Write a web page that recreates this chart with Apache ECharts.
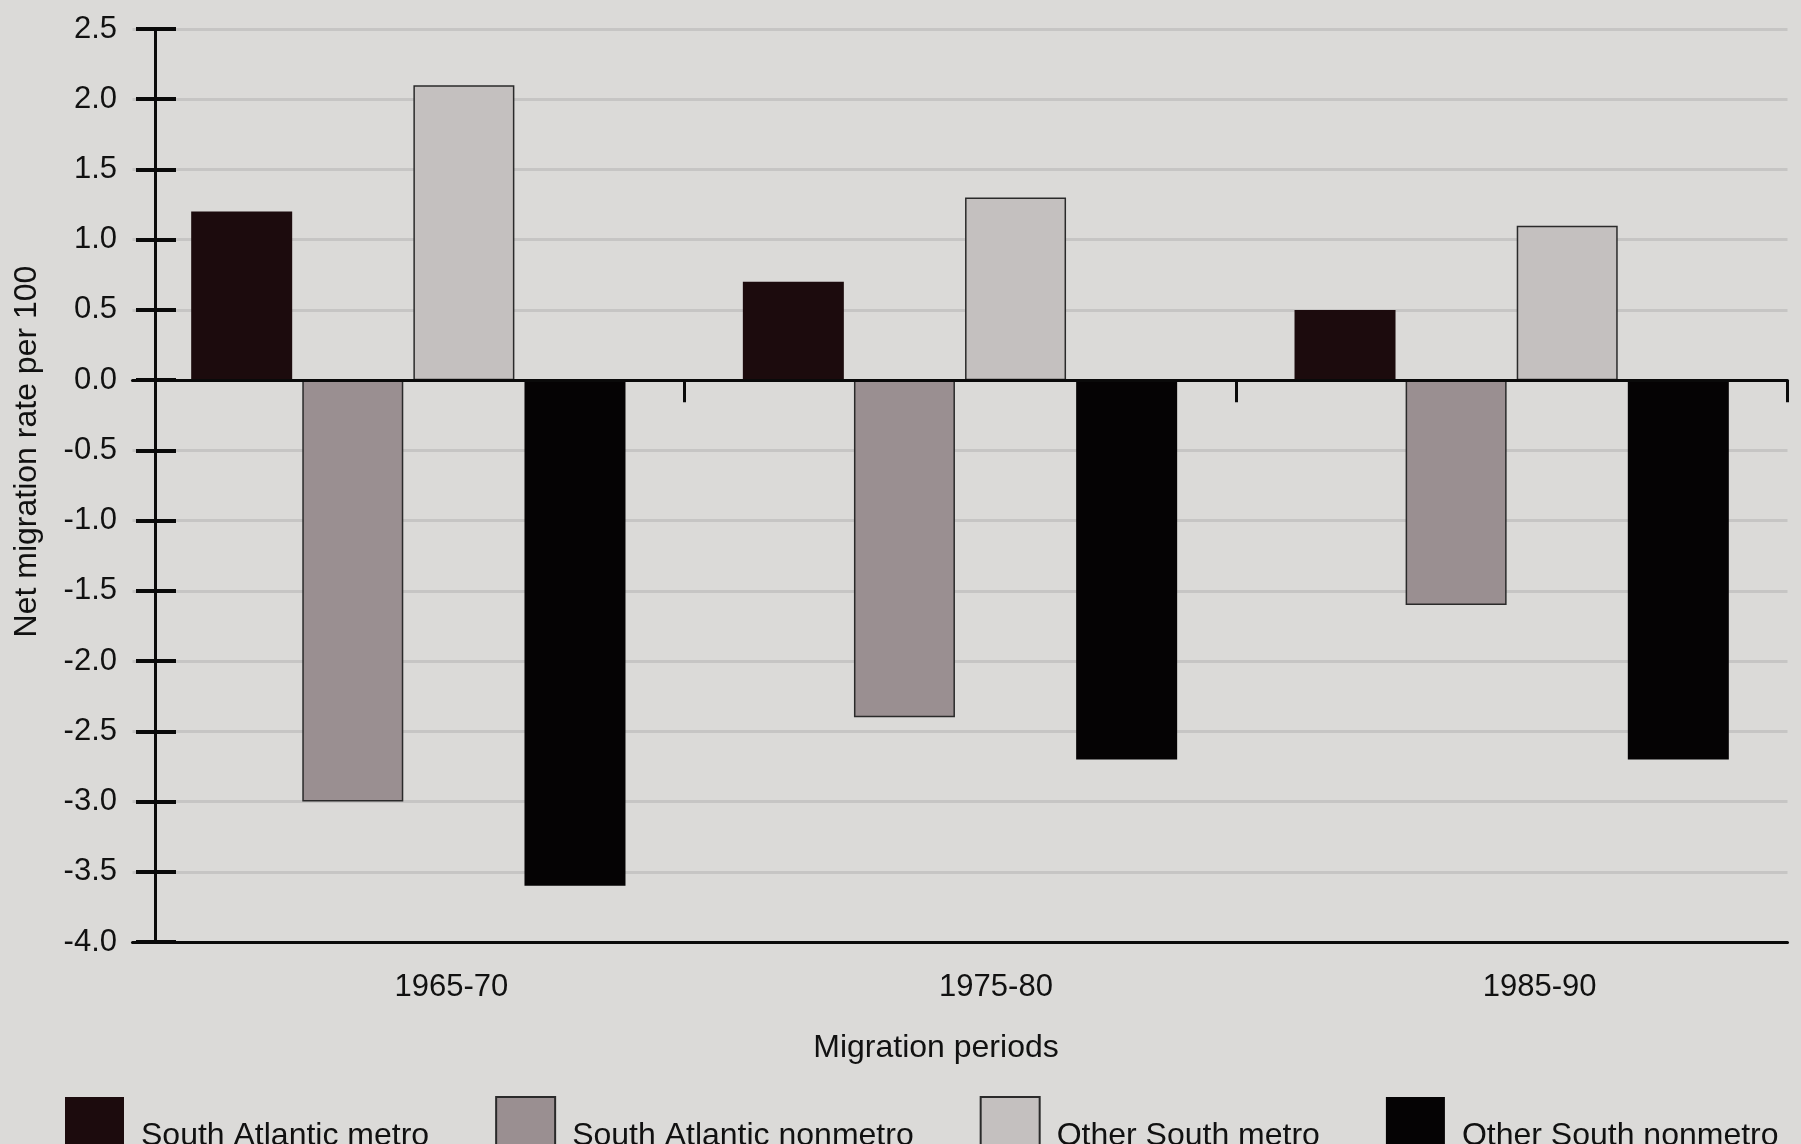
<!DOCTYPE html>
<html>
<head>
<meta charset="utf-8">
<script src="https://cdn.jsdelivr.net/npm/echarts@6/dist/echarts.min.js"></script>
<style>
html,body{margin:0;padding:0;background:#dbdad8;}
#chart{width:1801px;height:1144px;}
</style>
</head>
<body>
<div id="chart"></div>
<script>
var categories = ['1965-70', '1975-80', '1985-90'];
var seriesNames = ['South Atlantic metro', 'South Atlantic nonmetro', 'Other South metro', 'Other South nonmetro'];
var saMetro = [1.2, 0.7, 0.5];
var saNonmetro = [-3.0, -2.4, -1.6];
var osMetro = [2.1, 1.3, 1.1];
var osNonmetro = [-3.6, -2.7, -2.7];
var yTicks = [-4.0, -3.5, -3.0, -2.5, -2.0, -1.5, -1.0, -0.5, 0.0, 0.5, 1.0, 1.5, 2.0, 2.5];

var FONT = '"Liberation Sans", Arial, Helvetica, sans-serif';
var chart = echarts.init(document.getElementById('chart'));

var labelPad = [86, 72, 56];
var rich = {};
labelPad.forEach(function (p, i) {
  rich['l' + i] = {fontFamily: FONT, fontSize: 31, color: '#111', padding: [0, 0, 0, p]};
});

function bar(name, data, color, border) {
  return {
    name: name,
    type: 'bar',
    data: data,
    barWidth: 101,
    barGap: '10%',
    z: 2,
    itemStyle: {
      color: color,
      borderColor: border ? '#2a2a2a' : color,
      borderWidth: border ? 1.5 : 0
    }
  };
}

chart.setOption({
  backgroundColor: '#dbdad8',
  animation: false,
  textStyle: {fontFamily: FONT},
  grid: {left: 132.5, top: 29, width: 1655, height: 913, containLabel: false},
  legend: {
    left: 60,
    top: 1091,
    itemWidth: 59,
    itemHeight: 78,
    itemGap: 66,
    icon: 'rect',
    textStyle: {fontFamily: FONT, fontSize: 32, color: '#111', padding: [0, 0, 0, 12]},
    data: seriesNames
  },
  xAxis: [
    {
      type: 'category',
      data: categories,
      position: 'bottom',
      z: 5,
      axisLine: {onZero: true, lineStyle: {color: '#0a0a0a', width: 3}},
      axisTick: {
        show: true, length: 22,
        lineStyle: {color: '#0a0a0a', width: 3},
        interval: function (index) { return index !== 0; }
      },
      axisLabel: {show: false},
      splitLine: {show: false}
    },
    {
      type: 'category',
      data: categories,
      position: 'bottom',
      z: 5,
      axisLine: {onZero: false, lineStyle: {color: '#0a0a0a', width: 3}},
      axisTick: {show: false},
      axisLabel: {
        show: true,
        margin: 30,
        fontFamily: FONT,
        fontSize: 31,
        color: '#111',
        formatter: function (v, i) { return '{l' + i + '|' + v + '}'; },
        rich: rich
      },
      name: 'Migration periods',
      nameLocation: 'middle',
      nameGap: 90,
      nameTextStyle: {fontFamily: FONT, fontSize: 32, color: '#111', padding: [0, 48, 0, 0]},
      splitLine: {show: false}
    }
  ],
  yAxis: [
    {
      type: 'value',
      min: -4.0,
      max: 2.5,
      interval: 0.5,
      offset: -22.5,
      z: 0,
      axisLine: {show: true, lineStyle: {color: '#0a0a0a', width: 3}},
      axisTick: {show: true, inside: false, length: 19, lineStyle: {color: '#0a0a0a', width: 4}},
      axisLabel: {
        margin: 38,
        fontFamily: FONT,
        fontSize: 31,
        color: '#111',
        formatter: function (v) { return v.toFixed(1); }
      },
      splitLine: {show: true, lineStyle: {color: '#c6c5c4', width: 3}},
      name: 'Net migration rate per 100',
      nameLocation: 'middle',
      nameGap: 112,
      nameTextStyle: {fontFamily: FONT, fontSize: 32, color: '#111', padding: [0, 0, 0, 68]}
    },
    {
      type: 'value',
      min: -4.0,
      max: 2.5,
      interval: 0.5,
      offset: -22.5,
      position: 'left',
      z: 0,
      axisLine: {show: false},
      axisTick: {show: true, inside: true, length: 21, lineStyle: {color: '#0a0a0a', width: 4}},
      axisLabel: {show: false},
      splitLine: {show: false}
    }
  ],
  series: [
    bar(seriesNames[0], saMetro, '#1c0b0d', false),
    bar(seriesNames[1], saNonmetro, '#9a8f91', true),
    bar(seriesNames[2], osMetro, '#c4c0bf', true),
    bar(seriesNames[3], osNonmetro, '#050304', false)
  ]
});
</script>
</body>
</html>
